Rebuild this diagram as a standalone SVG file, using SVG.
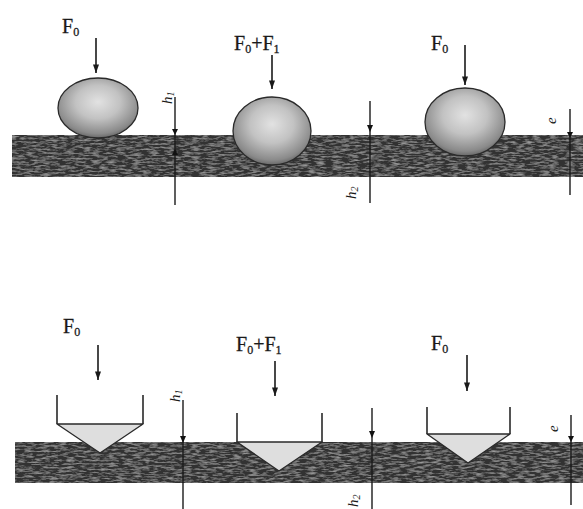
<svg xmlns="http://www.w3.org/2000/svg" width="583" height="509" viewBox="0 0 583 509">
  <defs>
    <style>
      .lbl { font-family: "Liberation Serif", "DejaVu Serif", serif; font-size: 20px; fill: #1a1a1a; stroke: #1a1a1a; stroke-width: 0.3; }
      .sub { font-size: 12px; fill: #1a1a1a; }
      .dim { font-family: "Liberation Serif", "DejaVu Serif", serif; font-size: 15px; font-style: italic; fill: #1a1a1a; }
      .plate { fill: #333; filter: url(#grain); }
      .ball { fill: url(#ballShade); stroke: #2a2a2a; stroke-width: 1.3; }
      .cone { fill: #dedede; stroke: #2a2a2a; stroke-width: 1.3; stroke-linejoin: round; }
      .side { fill: none; stroke: #2a2a2a; stroke-width: 1.6; }
      .force { stroke: #1a1a1a; stroke-width: 1.6; marker-end: url(#head); }
      .gauge { stroke: #1a1a1a; stroke-width: 1.4; fill: none; }
      .tick { fill: #111; }
    </style>
    <radialGradient id="ballShade" cx="0.5" cy="0.4" r="0.62">
      <stop offset="0" stop-color="#e2e2e2"/>
      <stop offset="0.45" stop-color="#c2c2c2"/>
      <stop offset="0.85" stop-color="#8a8a8a"/>
      <stop offset="1" stop-color="#5e5e5e"/>
    </radialGradient>
    <filter id="grain" x="0" y="0" width="1" height="1">
      <feTurbulence type="fractalNoise" baseFrequency="0.12 0.55" numOctaves="3" seed="7" result="noise"/>
      <feColorMatrix in="noise" type="matrix" values="0 0 0 0 0.48  0 0 0 0 0.48  0 0 0 0 0.48  0 0 0 1.4 -0.6" result="speck"/>
      <feComposite in="speck" in2="SourceGraphic" operator="atop"/>
    </filter>
    <marker id="head" viewBox="0 0 10 7" refX="10" refY="3.5" markerWidth="9" markerHeight="6" markerUnits="userSpaceOnUse" orient="auto">
      <path d="M0,0 L10,3.5 L0,7 Z" fill="#1a1a1a"/>
    </marker>
  </defs>

  <rect width="583" height="509" fill="#fff"/>

  <!-- ball indenter: specimen plate -->
  <g id="plate-top"><rect class="plate" x="12" y="135" width="571" height="42"/></g>

  <!-- ball under preload, after full load, after unloading -->
  <g id="ball-1"><ellipse class="ball" cx="98" cy="108" rx="40" ry="30"/></g>
  <g id="ball-2"><ellipse class="ball" cx="272" cy="131" rx="39" ry="34"/></g>
  <g id="ball-3"><ellipse class="ball" cx="465" cy="122" rx="40" ry="34"/></g>

  <!-- cone indenter: specimen plate -->
  <g id="plate-bottom"><rect class="plate" x="15" y="442" width="568" height="41"/></g>

  <g id="cone-1">
    <path class="cone" d="M57,424 L143,424 L100,453 Z"/>
    <path class="side" d="M57,395 V424 M143,395 V424"/>
  </g>
  <g id="cone-2">
    <path class="cone" d="M237,442 L322,442 L279,471 Z"/>
    <path class="side" d="M237,413 V442 M322,413 V442"/>
  </g>
  <g id="cone-3">
    <path class="cone" d="M427,434 L510,434 L468,463 Z"/>
    <path class="side" d="M427,407 V434 M510,407 V434"/>
  </g>

  <!-- load arrows and depth gauges -->
  <g id="connectors">
    <line class="force" x1="96" y1="38" x2="96" y2="73"/>
    <line class="force" x1="272" y1="55" x2="272" y2="89"/>
    <line class="force" x1="465" y1="45" x2="465" y2="85"/>
    <line class="force" x1="98" y1="345" x2="98" y2="380"/>
    <line class="force" x1="275" y1="361" x2="275" y2="396"/>
    <line class="force" x1="467" y1="355" x2="467" y2="391"/>

    <line class="gauge" x1="175" y1="97" x2="175" y2="205"/>
    <path class="tick" d="M172,129 L178,129 L175,135 Z M172,155 L178,155 L175,149 Z"/>
    <line class="gauge" x1="370" y1="101" x2="370" y2="203"/>
    <path class="tick" d="M367,125 L373,125 L370,132 Z"/>
    <line class="gauge" x1="570" y1="109" x2="570" y2="195"/>
    <path class="tick" d="M567,132 L573,132 L570,138 Z"/>

    <line class="gauge" x1="183" y1="400" x2="183" y2="509"/>
    <path class="tick" d="M180,436 L186,436 L183,443 Z"/>
    <line class="gauge" x1="372" y1="408" x2="372" y2="509"/>
    <path class="tick" d="M369,431 L375,431 L372,438 Z"/>
    <line class="gauge" x1="571" y1="415" x2="571" y2="505"/>
    <path class="tick" d="M568,436 L574,436 L571,442 Z"/>
  </g>

  <!-- labels -->
  <g id="labels">
    <text class="lbl" x="62" y="33">F<tspan class="sub" dy="3">0</tspan></text>
    <text class="lbl" x="234" y="50">F<tspan class="sub" dy="3">0</tspan><tspan dy="-3">+F</tspan><tspan class="sub" dy="3">1</tspan></text>
    <text class="lbl" x="431" y="50">F<tspan class="sub" dy="3">0</tspan></text>

    <text class="lbl" x="63" y="333">F<tspan class="sub" dy="3">0</tspan></text>
    <text class="lbl" x="236" y="351">F<tspan class="sub" dy="3">0</tspan><tspan dy="-3">+F</tspan><tspan class="sub" dy="3">1</tspan></text>
    <text class="lbl" x="431" y="350">F<tspan class="sub" dy="3">0</tspan></text>

    <text class="dim" transform="translate(172,104) rotate(-90)">h<tspan font-size="10" dy="2">1</tspan></text>
    <text class="dim" transform="translate(356,199) rotate(-90)">h<tspan font-size="10" dy="2">2</tspan></text>
    <text class="dim" transform="translate(556,124) rotate(-90)">e</text>

    <text class="dim" transform="translate(180,402) rotate(-90)">h<tspan font-size="10" dy="2">1</tspan></text>
    <text class="dim" transform="translate(358,507) rotate(-90)">h<tspan font-size="10" dy="2">2</tspan></text>
    <text class="dim" transform="translate(558,432) rotate(-90)">e</text>
  </g>
</svg>
